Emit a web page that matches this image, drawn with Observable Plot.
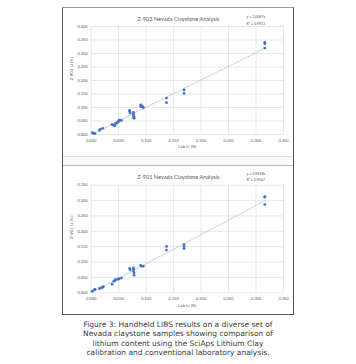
<!DOCTYPE html>
<html>
<head>
<meta charset="utf-8">
<script src="https://cdn.jsdelivr.net/npm/d3@7"></script>
<script src="https://cdn.jsdelivr.net/npm/@observablehq/plot@0.6"></script>
<style>
  html, body { margin: 0; padding: 0; background: #fff; }
  #page { position: relative; width: 356px; height: 364px; overflow: hidden; background: #fff; }
  #frame { position: absolute; left: 62px; top: 7px; width: 230px; height: 306px;
           border: 1px solid #555; border-top-color: #999; box-sizing: content-box; }
  #gap { position: absolute; left: 63px; top: 156px; width: 230px; height: 8px;
         border-top: 1px solid #ddd; border-bottom: 1px solid #bbb; background: #fafafa; }
  .chart { position: absolute; left: 62px; }
  #caption { position: absolute; left: 0; width: 356px; top: 320px; text-align: center;
             font-family: "DejaVu Sans", sans-serif; font-size: 7.5px; line-height: 9.3px; color: #3a3a3a; }
  #caption div { height: 9.3px; white-space: nowrap; }
</style>
</head>
<body>
<div id="page">
  <div id="frame"></div>
  <div id="gap"></div>
  <div id="top" class="chart" style="top:7px"></div>
  <div id="bottom" class="chart" style="top:165px"></div>
  <div id="caption"></div>
</div>
<script>
// ---- Data ----
const xTicks = [0, 0.05, 0.10, 0.15, 0.20, 0.25, 0.30, 0.35];
const yTicksTop = [0, 0.05, 0.10, 0.15, 0.20, 0.25, 0.30, 0.35, 0.40];
const yTicksBottom = [0, 0.05, 0.10, 0.15, 0.20, 0.25, 0.30, 0.35];

const labTop = [0.002,0.004,0.007, 0.015,0.017,0.021, 0.038,0.041,0.043,0.044,0.046,0.048,0.050,0.050,0.052,0.055,
  0.070,0.070,0.071, 0.077,0.077,0.077,0.078,0.078, 0.090,0.090,0.092,0.094,0.095, 0.137,0.137, 0.169,0.169, 0.316,0.316,0.316];
const z903 = [0.007,0.005,0.003, 0.015,0.020,0.023, 0.037,0.034,0.032,0.040,0.042,0.045,0.048,0.052,0.053,0.052,
  0.089,0.085,0.080, 0.082,0.075,0.068,0.064,0.060, 0.110,0.103,0.106,0.103,0.099, 0.135,0.118, 0.165,0.152, 0.341,0.336,0.320];

const labBottom = [0.002,0.006,0.007, 0.015,0.018,0.021,0.022, 0.038, 0.041,0.043,0.044,0.045,0.049,0.051,0.055,
  0.070,0.071, 0.077,0.077,0.077,0.078,0.078, 0.090,0.092,0.095, 0.137,0.137, 0.169,0.169,0.169, 0.316,0.316,0.316];
const z901 = [0.005,0.010,0.011, 0.014,0.016,0.018,0.020, 0.028, 0.037,0.040,0.042,0.043,0.044,0.046,0.048,
  0.079,0.075, 0.081,0.077,0.070,0.064,0.057, 0.089,0.086,0.087, 0.151,0.139, 0.157,0.151,0.144, 0.313,0.311,0.287];

const trendXTop = [0, 0.317], trendYTop = [0, 0.320];
const trendXBottom = [0, 0.317], trendYBottom = [0, 0.300];

const titles = ["Z-903 Nevada Claystone Analysis", "Z-901 Nevada Claystone Analysis"];
const eqTop = ["y = 1.0087x", "R² = 0.9913"];
const eqBottom = ["y = 0.9458x", "R² = 0.9547"];
const yLabels = ["Z-903 Li (%)", "Z-901 Li (%)"];
const xLabel = "Lab Li (%)";
const captionLines = [
  "Figure 3: Handheld LIBS results on a diverse set of",
  "Nevada claystone samples showing comparison of",
  "lithium content using the SciAps Lithium Clay",
  "calibration and conventional laboratory analysis."
];

const fmt = d3.format(".3f");
const FONT = "Lato, 'Open Sans', sans-serif";

function chart({lab, z, yMax, yTicks, tx, ty, title, eq, yLabel, mt, mb, eqDy}) {
  const pts = lab.map((x, i) => ({x, y: z[i]}));
  const trend = tx.map((x, i) => ({x, y: ty[i]}));
  return Plot.plot({
    width: 231, height: 149,
    marginLeft: 28.7, marginRight: 10, marginTop: mt, marginBottom: mb,
    style: {fontFamily: FONT, background: "transparent", overflow: "visible"},
    x: {domain: [0, 0.35]},
    y: {domain: [0, yMax]},
    marks: [
      Plot.gridX(xTicks, {stroke: "#d9d9d9", strokeOpacity: 1, strokeWidth: 0.6}),
      Plot.gridY(yTicks, {stroke: "#d9d9d9", strokeOpacity: 1, strokeWidth: 0.6}),
      Plot.axisX(xTicks, {tickSize: 0, tickPadding: 4.2, tickFormat: fmt, fontSize: 4, fill: "#595959", label: null}),
      Plot.axisY(yTicks, {tickSize: 0, tickPadding: 3.5, tickFormat: fmt, fontSize: 4, fill: "#595959", label: null}),
      Plot.line(trend, {x: "x", y: "y", stroke: "#9bb5e0", strokeWidth: 0.6}),
      Plot.dot(pts, {x: "x", y: "y", r: 1.4, fill: "#4472c4", stroke: "none"}),
      Plot.text([title], {frameAnchor: "top", dx: -9, dy: -(mt - 9.7), fontSize: 5.6, fill: "#595959"}),
      Plot.text([eq[0]], {frameAnchor: "top-right", dx: -37, dy: eqDy[0], textAnchor: "start", fontSize: 3.6, fill: "#595959"}),
      Plot.text([eq[1]], {frameAnchor: "top-right", dx: -37, dy: eqDy[1], textAnchor: "start", fontSize: 3.6, fill: "#595959"}),
      Plot.text([xLabel], {frameAnchor: "bottom", dy: 13.7, fontSize: 4.4, fill: "#595959"}),
      Plot.text([yLabel], {frameAnchor: "left", dx: -19.7, rotate: -90, fontSize: 4.4, fill: "#595959"})
    ]
  });
}

document.getElementById("top").append(chart({
  lab: labTop, z: z903, yMax: 0.4, yTicks: yTicksTop, tx: trendXTop, ty: trendYTop,
  title: titles[0], eq: eqTop, yLabel: yLabels[0], mt: 19, mb: 22, eqDy: [-11, -4.3]
}));
document.getElementById("bottom").append(chart({
  lab: labBottom, z: z901, yMax: 0.35, yTicks: yTicksBottom, tx: trendXBottom, ty: trendYBottom,
  title: titles[1], eq: eqBottom, yLabel: yLabels[1], mt: 19.7, mb: 21.7, eqDy: [-12.4, -6.4]
}));

const cap = document.getElementById("caption");
for (const line of captionLines) {
  const d = document.createElement("div");
  d.textContent = line;
  cap.append(d);
}
</script>
</body>
</html>
